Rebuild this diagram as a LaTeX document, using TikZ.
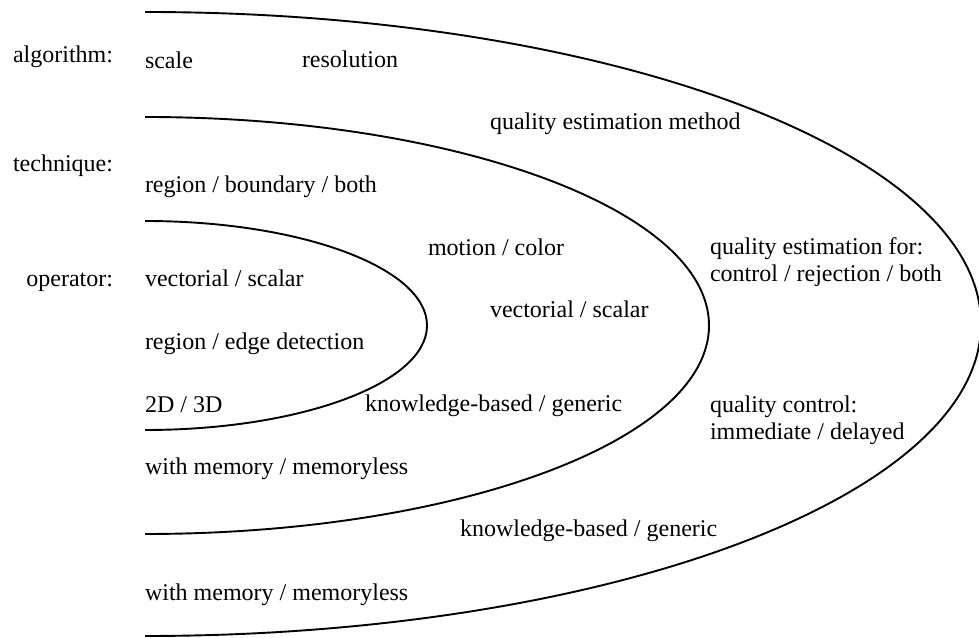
\documentclass[tikz,border=0pt]{standalone}
\usepackage{fontspec}
\setmainfont{Liberation Serif}
\begin{document}
\begin{tikzpicture}[
  x=1pt, y=1pt,
  lbl/.style={inner sep=0pt, outer sep=0pt, anchor=base west,
    font=\fontsize{24}{27}\selectfont},
  head/.style={lbl, anchor=base east},
  layer/.style={line width=1.9pt, black}
]
% page frame (pixel grid, y measured upward from the bottom edge)
\useasboundingbox (0,0) rectangle (979,637);

% nested half-ellipses: operator inside technique inside algorithm
\begin{scope}
\clip (0,0) rectangle (979,637);
\draw[layer] (145,625) arc[start angle=90, end angle=-90, x radius=836pt, y radius=312pt];
\end{scope}
\draw[layer] (145,520) arc[start angle=90, end angle=-90, x radius=564pt, y radius=208.5pt];
\draw[layer] (145,416) arc[start angle=90, end angle=-90, x radius=282pt, y radius=104.5pt];

% level headings
\node[head] (hAlg) at (113,574) {algorithm:};
\node[head] (hTec) at (113,465) {technique:};
\node[head] (hOp)  at (113,350) {operator:};

% algorithm level
\node[lbl] (aScale) at (145,568) {scale};
\node[lbl] (aRes)   at (302,569) {resolution};
\node[lbl] (aQem)   at (490,507) {quality estimation method};
\node[lbl] (aQef1)  at (710,382) {quality estimation for:};
\node[lbl] (aQef2)  at (710,355) {control / rejection / both};
\node[lbl] (aQc1)   at (710,224) {quality control:};
\node[lbl] (aQc2)   at (710,197) {immediate / delayed};
\node[lbl] (aKb)    at (460,100) {knowledge-based / generic};
\node[lbl] (aMem)   at (145,37)  {with memory / memoryless};

% technique level
\node[lbl] (tReg)   at (145,444) {region / boundary / both};
\node[lbl] (tMot)   at (428,381) {motion / color};
\node[lbl] (tVec)   at (490,319) {vectorial / scalar};
\node[lbl] (tKb)    at (365,225) {knowledge-based / generic};
\node[lbl] (tMem)   at (145,162) {with memory / memoryless};

% operator level
\node[lbl] (oVec)   at (145,350) {vectorial / scalar};
\node[lbl] (oReg)   at (145,287) {region / edge detection};
\node[lbl] (oDim)   at (145,224) {2D / 3D};
\end{tikzpicture}
\end{document}
